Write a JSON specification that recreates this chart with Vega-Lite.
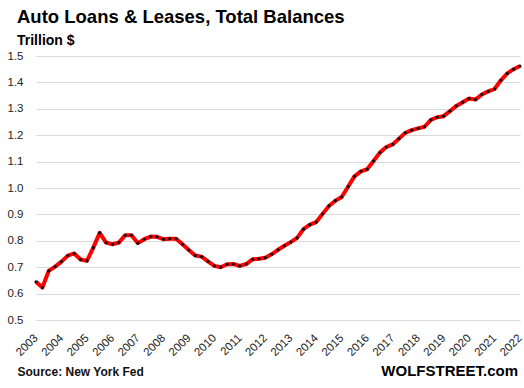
{
  "$schema": "https://vega.github.io/schema/vega-lite/v6.json",
  "autosize": "none",
  "width": 484,
  "height": 264,
  "padding": {"left": 36, "top": 56, "right": 4, "bottom": 68},
  "background": "white",
  "title": {
    "text": "Auto Loans & Leases, Total Balances",
    "subtitle": "Trillion $",
    "anchor": "start",
    "frame": "group",
    "dx": -19,
    "offset": 2,
    "font": "Liberation Sans",
    "fontSize": 18.5,
    "fontWeight": "bold",
    "color": "#000000",
    "subtitleFont": "Liberation Sans",
    "subtitleFontSize": 14,
    "subtitleFontWeight": "bold",
    "subtitleColor": "#000000",
    "subtitlePadding": 8
  },
  "config": {
    "view": {"stroke": null},
    "axis": {"labelFont": "Liberation Sans", "titleFont": "Liberation Sans"}
  },
  "layer": [
    {
      "data": {
        "values": [
          {"t": 2003.00, "v": 0.645}, {"t": 2003.25, "v": 0.623}, {"t": 2003.50, "v": 0.686}, {"t": 2003.75, "v": 0.702},
          {"t": 2004.00, "v": 0.721}, {"t": 2004.25, "v": 0.744}, {"t": 2004.50, "v": 0.752}, {"t": 2004.75, "v": 0.729},
          {"t": 2005.00, "v": 0.724}, {"t": 2005.25, "v": 0.774}, {"t": 2005.50, "v": 0.830}, {"t": 2005.75, "v": 0.793},
          {"t": 2006.00, "v": 0.787}, {"t": 2006.25, "v": 0.793}, {"t": 2006.50, "v": 0.821}, {"t": 2006.75, "v": 0.821},
          {"t": 2007.00, "v": 0.791}, {"t": 2007.25, "v": 0.806}, {"t": 2007.50, "v": 0.816}, {"t": 2007.75, "v": 0.815},
          {"t": 2008.00, "v": 0.806}, {"t": 2008.25, "v": 0.808}, {"t": 2008.50, "v": 0.808}, {"t": 2008.75, "v": 0.787},
          {"t": 2009.00, "v": 0.765}, {"t": 2009.25, "v": 0.744}, {"t": 2009.50, "v": 0.740}, {"t": 2009.75, "v": 0.722},
          {"t": 2010.00, "v": 0.705}, {"t": 2010.25, "v": 0.700}, {"t": 2010.50, "v": 0.711}, {"t": 2010.75, "v": 0.712},
          {"t": 2011.00, "v": 0.705}, {"t": 2011.25, "v": 0.712}, {"t": 2011.50, "v": 0.730}, {"t": 2011.75, "v": 0.732},
          {"t": 2012.00, "v": 0.736}, {"t": 2012.25, "v": 0.749}, {"t": 2012.50, "v": 0.766}, {"t": 2012.75, "v": 0.781},
          {"t": 2013.00, "v": 0.795}, {"t": 2013.25, "v": 0.811}, {"t": 2013.50, "v": 0.844}, {"t": 2013.75, "v": 0.861},
          {"t": 2014.00, "v": 0.871}, {"t": 2014.25, "v": 0.902}, {"t": 2014.50, "v": 0.932}, {"t": 2014.75, "v": 0.952},
          {"t": 2015.00, "v": 0.966}, {"t": 2015.25, "v": 1.005}, {"t": 2015.50, "v": 1.044}, {"t": 2015.75, "v": 1.063},
          {"t": 2016.00, "v": 1.071}, {"t": 2016.25, "v": 1.102}, {"t": 2016.50, "v": 1.134}, {"t": 2016.75, "v": 1.155},
          {"t": 2017.00, "v": 1.165}, {"t": 2017.25, "v": 1.187}, {"t": 2017.50, "v": 1.209}, {"t": 2017.75, "v": 1.219},
          {"t": 2018.00, "v": 1.226}, {"t": 2018.25, "v": 1.232}, {"t": 2018.50, "v": 1.258}, {"t": 2018.75, "v": 1.268},
          {"t": 2019.00, "v": 1.272}, {"t": 2019.25, "v": 1.291}, {"t": 2019.50, "v": 1.311}, {"t": 2019.75, "v": 1.325},
          {"t": 2020.00, "v": 1.339}, {"t": 2020.25, "v": 1.335}, {"t": 2020.50, "v": 1.354}, {"t": 2020.75, "v": 1.366},
          {"t": 2021.00, "v": 1.375}, {"t": 2021.25, "v": 1.408}, {"t": 2021.50, "v": 1.434}, {"t": 2021.75, "v": 1.450},
          {"t": 2022.00, "v": 1.462}
        ]
      },
      "encoding": {
        "x": {
          "field": "t",
          "type": "quantitative",
          "scale": {"domain": [2003, 2022], "nice": false, "zero": false},
          "axis": {
            "values": [2003, 2004, 2005, 2006, 2007, 2008, 2009, 2010, 2011, 2012, 2013, 2014, 2015, 2016, 2017, 2018, 2019, 2020, 2021, 2022],
            "tickCount": 100,
            "format": "d",
            "labelAngle": -45,
            "labelAlign": "right",
            "labelBaseline": "middle",
            "labelPadding": 16,
            "labelFontSize": 11.5,
            "labelColor": "#222222",
            "labelOverlap": false,
            "labelBound": false,
            "labelFlush": false,
            "ticks": false,
            "domain": false,
            "grid": false,
            "title": "Source: New York Fed",
            "titleFontSize": 12,
            "titleFontWeight": "bold",
            "titleColor": "#111111",
            "titleAnchor": "start",
            "titleAlign": "left",
            "titleBaseline": "alphabetic",
            "titleX": -19,
            "titleY": 55
          }
        },
        "y": {
          "field": "v",
          "type": "quantitative",
          "scale": {"domain": [0.5, 1.5], "nice": false, "zero": false},
          "axis": {
            "values": [0.5, 0.6, 0.7, 0.8, 0.9, 1.0, 1.1, 1.2, 1.3, 1.4, 1.5],
            "tickCount": 100,
            "format": ".1f",
            "labelFontSize": 11.5,
            "labelColor": "#222222",
            "labelPadding": 13,
            "labelOverlap": false,
            "ticks": false,
            "domain": false,
            "grid": true,
            "gridColor": "#d9d9d9",
            "gridWidth": 1,
            "title": null
          }
        }
      },
      "layer": [
        {"mark": {"type": "line", "color": "#ff0000", "strokeWidth": 4, "strokeJoin": "round"}},
        {"mark": {"type": "point", "filled": true, "color": "#111111", "size": 10, "opacity": 1}}
      ]
    },
    {
      "data": {"values": [{}]},
      "mark": {"type": "text", "align": "right", "baseline": "alphabetic", "dx": -2, "dy": 56, "font": "Liberation Sans", "fontSize": 15, "fontWeight": "bold", "color": "#000000"},
      "encoding": {
        "x": {"datum": 2022, "type": "quantitative"},
        "y": {"datum": 0.5, "type": "quantitative"},
        "text": {"value": "WOLFSTREET.com"}
      }
    }
  ]
}
